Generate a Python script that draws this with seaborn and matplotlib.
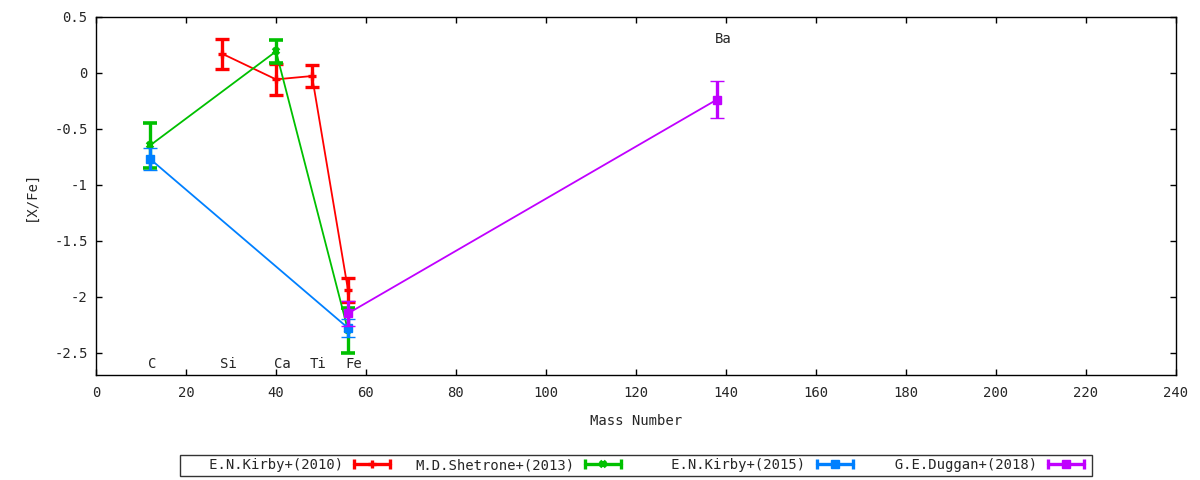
import numpy as np
import pandas as pd
import matplotlib
matplotlib.use("Agg")
import matplotlib.pyplot as plt
import seaborn as sns
from matplotlib.lines import Line2D
from matplotlib.legend_handler import HandlerLine2D, HandlerTuple

# ---- data ----
kirby2010_mass = [28, 40, 48, 56]
kirby2010_val = [0.17, -0.06, -0.03, -1.94]
kirby2010_err = [0.135, 0.14, 0.10, 0.11]

shetrone2013_mass = [12, 40, 56]
shetrone2013_val = [-0.65, 0.19, -2.30]
shetrone2013_err = [0.20, 0.10, 0.20]

kirby2015_mass = [12, 56]
kirby2015_val = [-0.77, -2.28]
kirby2015_err = [0.10, 0.08]

duggan2018_mass = [56, 138]
duggan2018_val = [-2.15, -0.24]
duggan2018_err = [0.11, 0.165]

series_names = ["E.N.Kirby+(2010)", "M.D.Shetrone+(2013)", "E.N.Kirby+(2015)", "G.E.Duggan+(2018)"]
series_colors = ["#ff0000", "#00c000", "#0080ff", "#c000ff"]
series_markers = ["+", "x", "s", "s"]

element_names = ["C", "Si", "Ca", "Ti", "Fe", "Ba"]
element_mass = [12, 28, 40, 48, 56, 138]
element_label_y = [-2.6, -2.6, -2.6, -2.6, -2.6, 0.3]

xticks = list(range(0, 241, 20))
yticks = [0.5, 0, -0.5, -1, -1.5, -2, -2.5]

# ---- style ----
sns.set_style("ticks")
plt.rcParams['font.family'] = ['DejaVu Sans Mono', 'DejaVu Sans']
plt.rcParams['axes.unicode_minus'] = False
FS = 10

fig = plt.figure(figsize=(12, 4.8), dpi=100)
ax = fig.add_axes([0.08, 0.21875, 0.90, 0.7465])

data = [
    (kirby2010_mass, kirby2010_val, kirby2010_err),
    (shetrone2013_mass, shetrone2013_val, shetrone2013_err),
    (kirby2015_mass, kirby2015_val, kirby2015_err),
    (duggan2018_mass, duggan2018_val, duggan2018_err),
]

handles = []
hmap = {}
for i, ((m, v, e), name, col, mk) in enumerate(zip(data, series_names, series_colors, series_markers)):
    df = pd.DataFrame({"mass": m, "val": v})
    z = 2 + i
    sns.lineplot(data=df, x="mass", y="val", color=col, lw=1.3, sort=False,
                 estimator=None, ax=ax, zorder=z, legend=False)
    if mk == "s":
        ms, mew = 6, 1
    elif mk == "+":
        ms, mew = 6, 2.4
    else:
        ms, mew = 4.5, 2.6
    ax.errorbar(m, v, yerr=e, fmt=mk, color=col, ecolor=col, elinewidth=2.4,
                capsize=5, capthick=2.2, markersize=ms, markeredgewidth=mew,
                zorder=z + 0.5)
    capline = Line2D([], [], color=col, lw=2.4, marker="|", markersize=7,
                     markeredgewidth=2.4)
    mline = Line2D([], [], color=col, lw=0, marker=mk, markersize=ms,
                   markeredgewidth=mew)
    hmap[mline] = HandlerLine2D(numpoints=1)
    handles.append((capline, mline))

for name, mass, ly in zip(element_names, element_mass, element_label_y):
    ax.text(mass - 0.5, ly, name, ha="left", va="center", fontsize=FS)

ax.set_xlim(0, 240)
ax.set_ylim(-2.7, 0.5)
ax.set_xticks(xticks)
ax.set_yticks(yticks)
ax.set_xticklabels([f"{t:g}" for t in xticks], fontsize=FS)
ax.set_yticklabels([f"{t:g}" for t in yticks], fontsize=FS)
ax.tick_params(direction="in", length=4.5, width=1, top=True, right=True,
               color="black")
ax.tick_params(axis="x", pad=8)
ax.tick_params(axis="y", pad=6)
for s in ax.spines.values():
    s.set_visible(True)
    s.set_linewidth(1.0)
    s.set_color("black")

ax.set_xlabel("Mass Number", fontsize=FS, labelpad=10)
ax.set_ylabel("[X/Fe]", fontsize=FS, labelpad=12)

labels = [n.rjust(19) for n in series_names]
hmap[tuple] = HandlerTuple(ndivide=1, pad=0)
leg = fig.legend(handles, labels, handler_map=hmap, loc="center",
                 bbox_to_anchor=(0.53, 0.031), ncol=4, frameon=True,
                 fancybox=False, edgecolor="black", fontsize=FS,
                 markerfirst=False, numpoints=2, handlelength=3.2,
                 handletextpad=0.5, columnspacing=1.5, borderpad=0.25,
                 borderaxespad=0)
leg.get_frame().set_linewidth(1.0)

fig.savefig("out.png", dpi=100)
